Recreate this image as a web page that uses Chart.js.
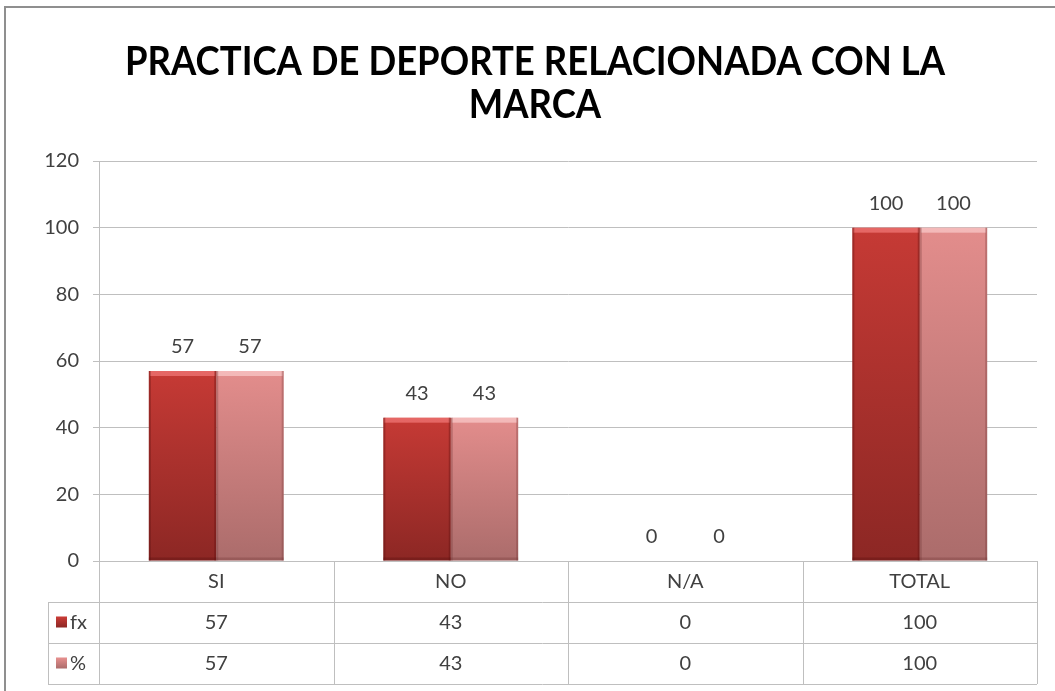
<!DOCTYPE html>
<html><head><meta charset="utf-8">
<script src="https://cdn.jsdelivr.net/npm/chart.js@4/dist/chart.umd.min.js"></script>
<style>html,body{margin:0;padding:0;background:#fff}#wrap{width:1055px;height:691px;position:relative}</style>
</head><body><div id="wrap"><canvas id="c" width="1055" height="691"></canvas></div>
<script>
const titleLines = ['PRACTICA DE DEPORTE RELACIONADA CON LA', 'MARCA'];
const categories = ['SI', 'NO', 'N/A', 'TOTAL'];
const seriesNames = ['fx', '%'];
const fxValues = [57, 43, 0, 100];
const pctValues = [57, 43, 0, 100];
const yMin = 0, yMax = 120, yStep = 20;

const TEXT = '#404040';
const GRID = '#bfbfbf';
const bodyFont = 'Lato, "Open Sans", sans-serif';

const palettes = [
  {top: '#c63a35', bottom: '#8c2724', hi: 'rgba(255,140,140,0.55)', edge: 'rgba(90,15,15,0.35)'},
  {top: '#e38d8c', bottom: '#ab6c6b', hi: 'rgba(255,215,215,0.6)', edge: 'rgba(110,50,50,0.3)'}
];

function barGradient(ctx, pal) {
  const chart = ctx.chart;
  const area = chart.chartArea;
  if (!area) return pal.top;
  const ys = chart.scales.y;
  const v = ctx.raw || 0;
  const top = ys.getPixelForValue(v);
  const base = ys.getPixelForValue(0);
  if (base - top < 1) return pal.top;
  const g = chart.ctx.createLinearGradient(0, top, 0, base);
  g.addColorStop(0, pal.top);
  g.addColorStop(1, pal.bottom);
  return g;
}

const decorPlugin = {
  id: 'decor',
  beforeDraw(chart) {
    const c = chart.ctx;
    c.save();
    c.fillStyle = '#fff';
    c.fillRect(0, 0, chart.width, chart.height);
    c.restore();
  },
  afterDatasetsDraw(chart) {
    const c = chart.ctx;
    c.save();
    chart.data.datasets.forEach((ds, di) => {
      const meta = chart.getDatasetMeta(di);
      const pal = palettes[di];
      meta.data.forEach((el, i) => {
        const v = ds.data[i];
        const w = el.width, x0 = el.x - w / 2, top = el.y, base = el.base;
        if (base - top > 2) {
          c.fillStyle = pal.hi;
          c.fillRect(x0 + 1, top, w - 2, 5);
          c.fillStyle = pal.edge;
          c.fillRect(x0, top, 2, base - top);
          c.fillRect(x0 + w - 2, top, 2, base - top);
          c.fillRect(x0, base - 3, w, 3);
        }
        c.fillStyle = TEXT;
        c.font = '20px ' + bodyFont;
        c.textAlign = 'center';
        c.textBaseline = 'middle';
        c.fillText(String(v), el.x, top - 24);
      });
    });
    c.restore();
  },
  afterDraw(chart) {
    const c = chart.ctx;
    const area = chart.chartArea;
    const xs = chart.scales.x;
    c.save();
    // outer frame
    c.strokeStyle = '#8f8f8f';
    c.lineWidth = 2;
    c.beginPath();
    c.moveTo(5, chart.height);
    c.lineTo(5, 7);
    c.lineTo(chart.width, 7);
    c.stroke();

    // title
    c.fillStyle = '#000';
    c.textAlign = 'center';
    c.textBaseline = 'middle';
    c.font = 'bold 41px Lato, "Open Sans", sans-serif';
    const targetW = 820;
    const w0 = c.measureText(titleLines[0]).width;
    const sx = targetW / w0;
    const titleY = [62, 105];
    titleLines.forEach((t, i) => {
      c.save();
      c.translate(535, titleY[i]);
      c.scale(sx, 1);
      c.fillText(t, 0, 0);
      c.restore();
    });

    // data table
    const n = categories.length;
    const catW = (area.right - area.left) / n;
    const rowH = 41;
    const y0 = area.bottom;
    const legendLeft = 48;
    c.strokeStyle = GRID;
    c.lineWidth = 1;
    c.beginPath();
    for (let i = 0; i <= n; i++) {
      const x = Math.round(area.left + i * catW) + 0.5;
      c.moveTo(x, y0);
      c.lineTo(x, y0 + rowH * 3);
    }
    for (let r = 1; r <= 3; r++) {
      const y = Math.round(y0 + r * rowH) + 0.5;
      c.moveTo(legendLeft, y);
      c.lineTo(area.right, y);
    }
    c.moveTo(legendLeft + 0.5, y0 + rowH);
    c.lineTo(legendLeft + 0.5, y0 + rowH * 3);
    c.stroke();

    c.fillStyle = TEXT;
    c.font = '20px ' + bodyFont;
    c.textAlign = 'center';
    c.textBaseline = 'middle';
    categories.forEach((cat, i) => {
      c.fillText(cat, xs.getPixelForValue(i), y0 + rowH / 2);
    });
    const rows = [fxValues, pctValues];
    rows.forEach((vals, r) => {
      const cy = y0 + rowH * (r + 1) + rowH / 2;
      vals.forEach((v, i) => {
        c.fillStyle = TEXT;
        c.textAlign = 'center';
        c.fillText(String(v), xs.getPixelForValue(i), cy);
      });
      const pal = palettes[r];
      const g = c.createLinearGradient(0, cy - 5, 0, cy + 5);
      g.addColorStop(0, pal.top);
      g.addColorStop(1, pal.bottom);
      c.fillStyle = g;
      c.fillRect(56, cy - 6, 11, 11);
      c.fillStyle = TEXT;
      c.textAlign = 'left';
      c.fillText(seriesNames[r], 70, cy);
    });
    c.restore();
  }
};

new Chart(document.getElementById('c'), {
  type: 'bar',
  data: {
    labels: categories,
    datasets: [
      {label: seriesNames[0], data: fxValues, backgroundColor: ctx => barGradient(ctx, palettes[0]), borderWidth: 0},
      {label: seriesNames[1], data: pctValues, backgroundColor: ctx => barGradient(ctx, palettes[1]), borderWidth: 0}
    ]
  },
  options: {
    responsive: false,
    animation: false,
    devicePixelRatio: 1,
    layout: {padding: {top: 161, right: 18, bottom: 130, left: 0}},
    plugins: {legend: {display: false}, title: {display: false}, tooltip: {enabled: false}},
    datasets: {bar: {categoryPercentage: 0.575, barPercentage: 1.0}},
    scales: {
      x: {display: false},
      y: {
        min: yMin, max: yMax,
        ticks: {stepSize: yStep, color: TEXT, font: {size: 20, family: bodyFont}, padding: 14},
        grid: {color: GRID, tickLength: 6, tickColor: GRID},
        border: {display: true, color: GRID},
        afterFit(scale) { scale.width = 99; }
      }
    }
  },
  plugins: [decorPlugin]
});
</script>
</body></html>
